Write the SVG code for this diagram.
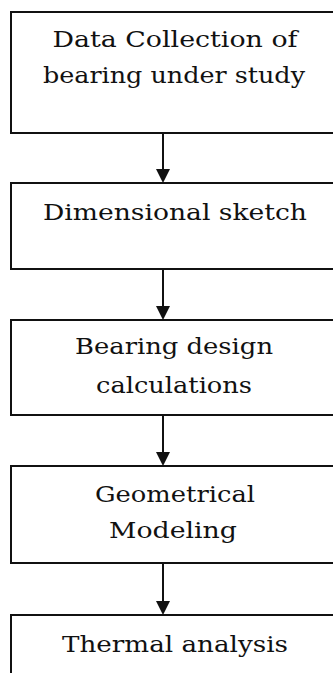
<svg xmlns="http://www.w3.org/2000/svg" width="333" height="673" viewBox="0 0 333 673">
<style>
.box{fill:#fff;stroke:#111;stroke-width:2}
.t{font-family:"DejaVu Serif","Liberation Serif",serif;font-size:22px;fill:#111;text-anchor:middle}
.c{stroke:#111;stroke-width:2;fill:none}
.h{fill:#111}
</style>
<rect width="333" height="673" fill="#fff"/>
<g id="node1">
<rect class="box" x="11" y="12" width="340" height="121"/>
<text class="t" x="175" y="47" textLength="245" lengthAdjust="spacingAndGlyphs">Data Collection of</text>
<text class="t" x="174" y="83" textLength="262" lengthAdjust="spacingAndGlyphs">bearing under study</text>
</g>
<g id="node2">
<rect class="box" x="11" y="183" width="340" height="86"/>
<text class="t" x="175" y="220" textLength="264" lengthAdjust="spacingAndGlyphs">Dimensional sketch</text>
</g>
<g id="node3">
<rect class="box" x="11" y="320" width="340" height="95"/>
<text class="t" x="174" y="354" textLength="198" lengthAdjust="spacingAndGlyphs">Bearing design</text>
<text class="t" x="174" y="393" textLength="156" lengthAdjust="spacingAndGlyphs">calculations</text>
</g>
<g id="node4">
<rect class="box" x="11" y="466" width="340" height="97"/>
<text class="t" x="175" y="502" textLength="160" lengthAdjust="spacingAndGlyphs">Geometrical</text>
<text class="t" x="173" y="538" textLength="128" lengthAdjust="spacingAndGlyphs">Modeling</text>
</g>
<g id="node5">
<rect class="box" x="11" y="615" width="340" height="80"/>
<text class="t" x="175" y="652" textLength="226" lengthAdjust="spacingAndGlyphs">Thermal analysis</text>
</g>
<g id="connectors">
<line class="c" x1="163" y1="133" x2="163" y2="170"/>
<polygon class="h" points="156,169 170,169 163,183"/>
<line class="c" x1="163" y1="269" x2="163" y2="307"/>
<polygon class="h" points="156,306 170,306 163,320"/>
<line class="c" x1="163" y1="415" x2="163" y2="453"/>
<polygon class="h" points="156,452 170,452 163,466"/>
<line class="c" x1="163" y1="563" x2="163" y2="602"/>
<polygon class="h" points="156,601 170,601 163,615"/>
</g>
</svg>
